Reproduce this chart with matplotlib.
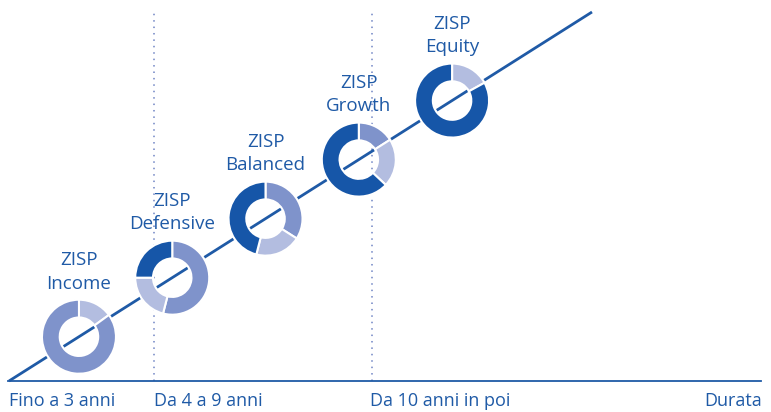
import matplotlib
matplotlib.use('Agg')
import matplotlib.pyplot as plt

plt.rcParams['font.family'] = ['Open Sans', 'DejaVu Sans']

# fund names and allocation shares (%), read from the donuts
funds = ['Income', 'Defensive', 'Balanced', 'Growth', 'Equity']
medium_share = [85, 54, 34, 16, 0]
light_share = [15, 21, 20, 21, 17]
dark_share = [0, 25, 46, 63, 83]
# clockwise slice order starting at 12 o'clock
slice_order = [['light', 'medium'],
               ['medium', 'light', 'dark'],
               ['medium', 'light', 'dark'],
               ['medium', 'light', 'dark'],
               ['light', 'dark']]

durations = ['Fino a 3 anni', 'Da 4 a 9 anni', 'Da 10 anni in poi']
axis_label = 'Durata'

blue = '#1f5aa6'
colors = {'medium': '#7f93cb', 'light': '#b3bde0', 'dark': '#1656a8'}
shares = {'medium': medium_share, 'light': light_share, 'dark': dark_share}

W, H = 771, 412
fig = plt.figure(figsize=(W / 100, H / 100), dpi=100)
ax = fig.add_axes([0, 0, 1, 1])

# diagonal trend line and base axis (pixel-like coordinates, y up)
x0, y0, x1, y1 = 9, 31, 592, 400
ax.plot([x0, x1], [y0, y1], color=blue, lw=2.0, solid_capstyle='butt', zorder=1)
ax.plot([8, 761], [31, 31], color=blue, lw=1.3, zorder=1)

# dotted separators between duration classes
for xs in (154, 372):
    ax.plot([xs, xs], [31, 400], color='#6f84c4', lw=1.1,
            linestyle=(0, (1, 3.2)), zorder=0)

# duration labels
label_y = 11
fs = 13
ax.text(9, label_y, durations[0], color=blue, fontsize=fs, ha='left', va='center')
ax.text(154, label_y, durations[1], color=blue, fontsize=fs, ha='left', va='center')
ax.text(370, label_y, durations[2], color=blue, fontsize=fs, ha='left', va='center')
ax.text(762, label_y, axis_label, color=blue, fontsize=fs, ha='right', va='center')

# donuts placed along the line
r = 37
for i, name in enumerate(funds):
    t = 0.12 + 0.16 * i
    cx = x0 + t * (x1 - x0)
    cy = y0 + t * (y1 - y0)
    vals = [shares[k][i] for k in slice_order[i]]
    cols = [colors[k] for k in slice_order[i]]
    ax.pie(vals, colors=cols, startangle=90, counterclock=False,
           center=(cx, cy), radius=r, frame=True,
           wedgeprops=dict(width=r * 0.48, edgecolor='white', linewidth=1.5))
    ax.text(cx, cy + r + 28, 'ZISP\n' + name, color=blue, fontsize=13.5,
            ha='center', va='center', linespacing=1.4)

ax.set_xlim(0, W)
ax.set_ylim(0, H)
ax.set_aspect('auto')
ax.axis('off')

fig.savefig('out.png', dpi=100)
